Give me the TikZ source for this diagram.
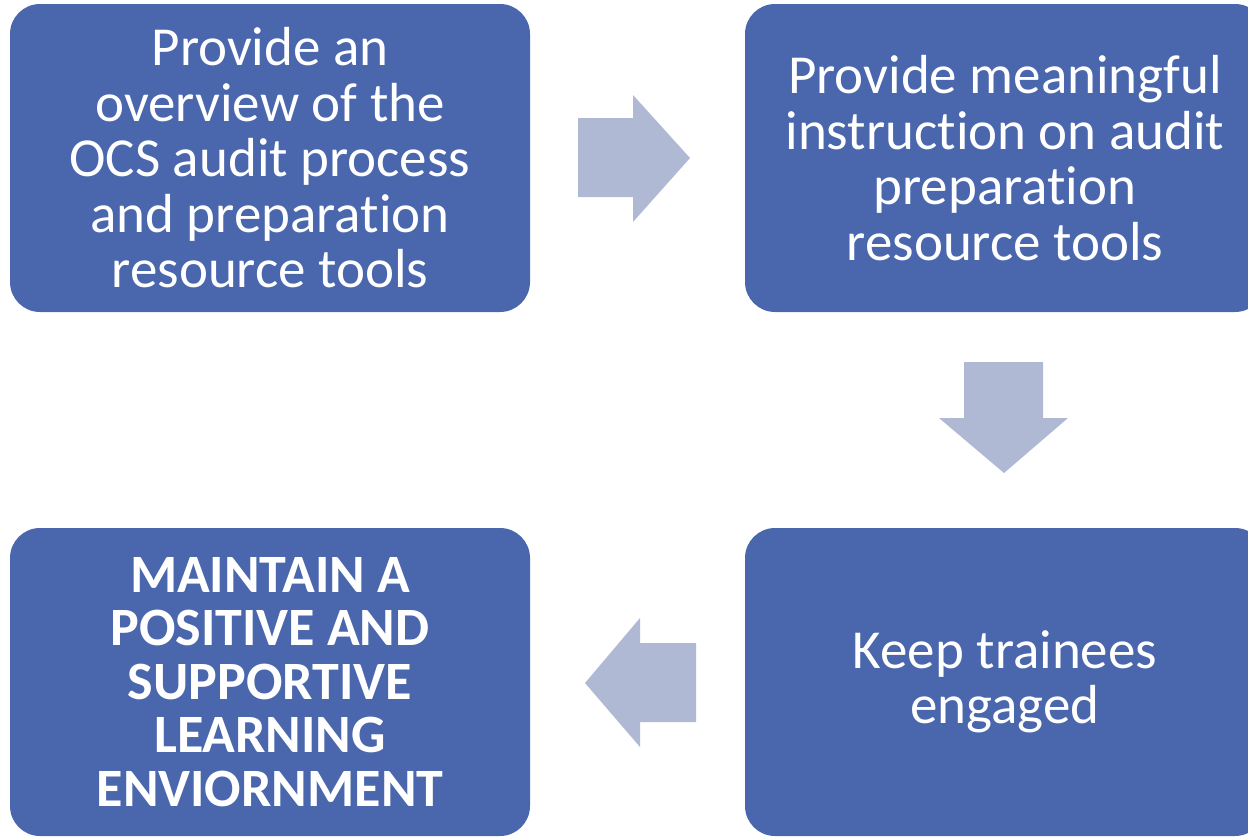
\documentclass[tikz,border=0pt]{standalone}
\usepackage{fontspec}
\setmainfont{Carlito}[Ligatures={NoCommon}]
\definecolor{boxblue}{HTML}{4A67AD}
\definecolor{arrowgrey}{HTML}{B0B9D3}
\begin{document}
\begin{tikzpicture}[x=1pt,y=-1pt,
  stepbox/.style={fill=boxblue, rounded corners=30pt, minimum width=520pt,
    minimum height=308pt, inner sep=0pt, text=white, align=center,
    font=\fontsize{55}{55.5}\selectfont},
  blockarrow/.style={fill=arrowgrey}]
  \useasboundingbox (0,0) rectangle (1248,836);
  \begin{scope}
    \clip (0,0) rectangle (1248,836);
    % process steps
    \node[stepbox] (overview) at (270,158)
      {Provide an\\overview of the\\OCS audit process\\and preparation\\resource tools};
    \node[stepbox] (instruction) at (1005,158)
      {Provide meaningful\\instruction on audit\\preparation\\resource tools};
    \node[stepbox] (engage) at (1005,682)
      {Keep trainees\\engaged};
    \node[stepbox, font=\fontsize{54}{53.5}\selectfont\bfseries] (maintain) at (270,682)
      {MAINTAIN A\\POSITIVE AND\\SUPPORTIVE\\LEARNING\\ENVIORNMENT};
  \end{scope}
  % block arrows between the steps
  \fill[blockarrow] (578,118) -- (633,118) -- (633,95) -- (690,158)
    -- (633,222) -- (633,197) -- (578,197) -- cycle;
  \fill[blockarrow] (964,362) -- (1043,362) -- (1043,418) -- (1068,418)
    -- (1004,473) -- (939,418) -- (964,418) -- cycle;
  \fill[blockarrow] (696,643) -- (640,643) -- (640,618) -- (585,683)
    -- (640,747) -- (640,722) -- (696,722) -- cycle;
\end{tikzpicture}
\end{document}
